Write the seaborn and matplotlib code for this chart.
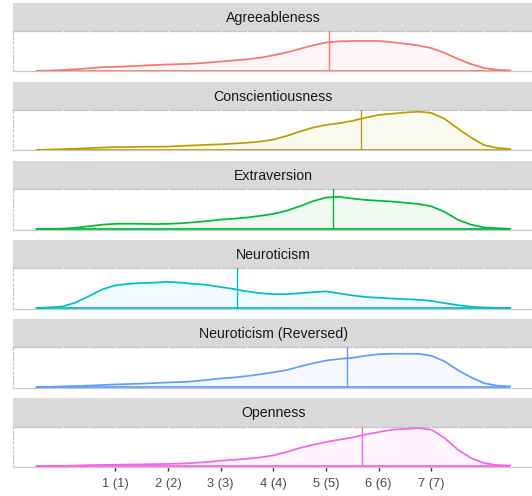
import numpy as np
import pandas as pd
import matplotlib
matplotlib.use("Agg")
import matplotlib.pyplot as plt
import seaborn as sns

# density curves, every 0.25 on the x scale
# (heights relative to the panel height, panels share one y scale)
x_grid = [-0.5, -0.25, 0.0, 0.25, 0.5, 0.75, 1.0, 1.25, 1.5, 1.75,
          2.0, 2.25, 2.5, 2.75, 3.0, 3.25, 3.5, 3.75, 4.0, 4.25,
          4.5, 4.75, 5.0, 5.25, 5.5, 5.75, 6.0, 6.25, 6.5, 6.75,
          7.0, 7.25, 7.5, 7.75, 8.0, 8.25, 8.5]

traits = ["Agreeableness", "Conscientiousness", "Extraversion",
          "Neuroticism", "Neuroticism (Reversed)", "Openness"]

agree = [0, .005, .02, .04, .065, .09, .10, .115, .13, .145,
         .16, .17, .18, .205, .235, .26, .29, .33, .39, .46,
         .55, .64, .71, .74, .75, .75, .75, .72, .68, .64,
         .57, .45, .30, .17, .07, .025, .01]
consc = [0, .01, .02, .03, .045, .06, .07, .075, .08, .08,
         .085, .10, .115, .13, .14, .16, .18, .21, .26, .35,
         .46, .56, .63, .67, .73, .81, .88, .91, .94, .96,
         .93, .78, .54, .31, .12, .05, .02]
extra = [0, .003, .01, .03, .07, .11, .13, .135, .13, .125,
         .13, .145, .17, .20, .235, .26, .29, .33, .38, .46,
         .57, .70, .79, .81, .765, .73, .71, .69, .66, .63,
         .57, .43, .235, .11, .04, .02, .005]
neuro = [0, .02, .04, .14, .30, .47, .57, .61, .63, .64,
         .66, .64, .61, .58, .53, .48, .42, .375, .35, .35,
         .375, .40, .42, .37, .32, .28, .26, .24, .225, .21,
         .18, .125, .075, .035, .017, .008, 0]
neuro_rev = [0, .008, .02, .03, .04, .055, .07, .08, .09, .105,
             .12, .13, .15, .185, .22, .245, .28, .325, .375, .43,
             .52, .60, .67, .71, .74, .79, .83, .84, .84, .84,
             .79, .65, .43, .25, .10, .04, .02]
openness = [0, .005, .01, .02, .03, .035, .04, .045, .05, .055,
            .06, .07, .085, .11, .14, .165, .19, .225, .275, .36,
            .46, .54, .61, .67, .725, .80, .86, .92, .94, .96,
            .92, .71, .42, .21, .08, .03, .02]

means = [5.05, 5.67, 5.14, 3.31, 5.40, 5.69]
colors = ["#F8766D", "#B79F00", "#00BA38", "#00BFC4", "#619CFF", "#F564E3"]

tick_vals = [1, 2, 3, 4, 5, 6, 7]
tick_labels = ["1 (1)", "2 (2)", "3 (3)", "4 (4)", "5 (5)", "6 (6)", "7 (7)"]

curves = [agree, consc, extra, neuro, neuro_rev, openness]
df = pd.concat([pd.DataFrame({"trait": t, "x": x_grid, "density": d})
                for t, d in zip(traits, curves)], ignore_index=True)

sns.set_theme(style="white")
plt.rcParams["font.family"] = ["Liberation Sans", "DejaVu Sans"]

W, H = 532, 496
fig = plt.figure(figsize=(W / 100, H / 100), dpi=100)

left = 12.5
width = 521.7      # panel runs a little past the right edge, as in the reference
period = 79.1
for i, (t, col, m) in enumerate(zip(traits, colors, means)):
    strip_top = 2.7 + period * i
    panel_top = 31.0 + period * i
    panel_bot = 71.3 + period * i

    # strip
    sax = fig.add_axes([left / W, 1 - panel_top / H, width / W,
                        (panel_top - strip_top) / H])
    sax.set_facecolor("#d9d9d9")
    sax.set_xticks([]); sax.set_yticks([])
    for s in sax.spines.values():
        s.set_visible(False)
    sax.text(0.5, 0.47, t, ha="center", va="center", fontsize=10.2,
             color="#1a1a1a", transform=sax.transAxes)

    # panel
    ax = fig.add_axes([left / W, 1 - panel_bot / H, width / W,
                       (panel_bot - panel_top) / H])
    ax.set_facecolor("white")
    sub = df[df["trait"] == t]
    ax.fill_between(sub["x"], 0, sub["density"], color=col, alpha=0.06,
                    lw=0, zorder=3)
    sns.lineplot(data=sub, x="x", y="density", color=col, lw=1.25, ax=ax,
                 zorder=4)
    ax.hlines(0, min(x_grid), max(x_grid), color=col, lw=1.25, zorder=4)
    ax.axvline(m, color=col, lw=1.0, zorder=4)

    ax.set_xlim(-0.95, 8.95)
    ax.set_ylim(-0.012, 1.0)
    ax.set_xlabel(""); ax.set_ylabel("")
    ax.set_yticks(np.arange(0.06, 1.0, 0.12))
    ax.set_xticks(np.arange(0, 8.6, 0.5))
    ax.grid(True, color="white", lw=0.8)
    ax.set_axisbelow(False)
    for name, s in ax.spines.items():
        s.set_zorder(2)
        s.set_color("#c8c8c8")
        s.set_linewidth(0.9)
    ax.spines["right"].set_visible(False)
    ax.spines["top"].set_color("#c4c4c4")
    ax.tick_params(axis="y", length=0, labelleft=False)
    ax.tick_params(axis="x", length=0, labelbottom=False)
    if i == len(traits) - 1:
        tax = ax.secondary_xaxis("bottom")
        tax.set_xticks(tick_vals)
        tax.set_xticklabels(tick_labels)
        tax.tick_params(axis="x", length=3.2, width=1, color="#333333",
                        labelsize=9.3, labelcolor="#4d4d4d", pad=5)
        tax.spines["bottom"].set_visible(False)

fig.savefig("out.png", dpi=100)
